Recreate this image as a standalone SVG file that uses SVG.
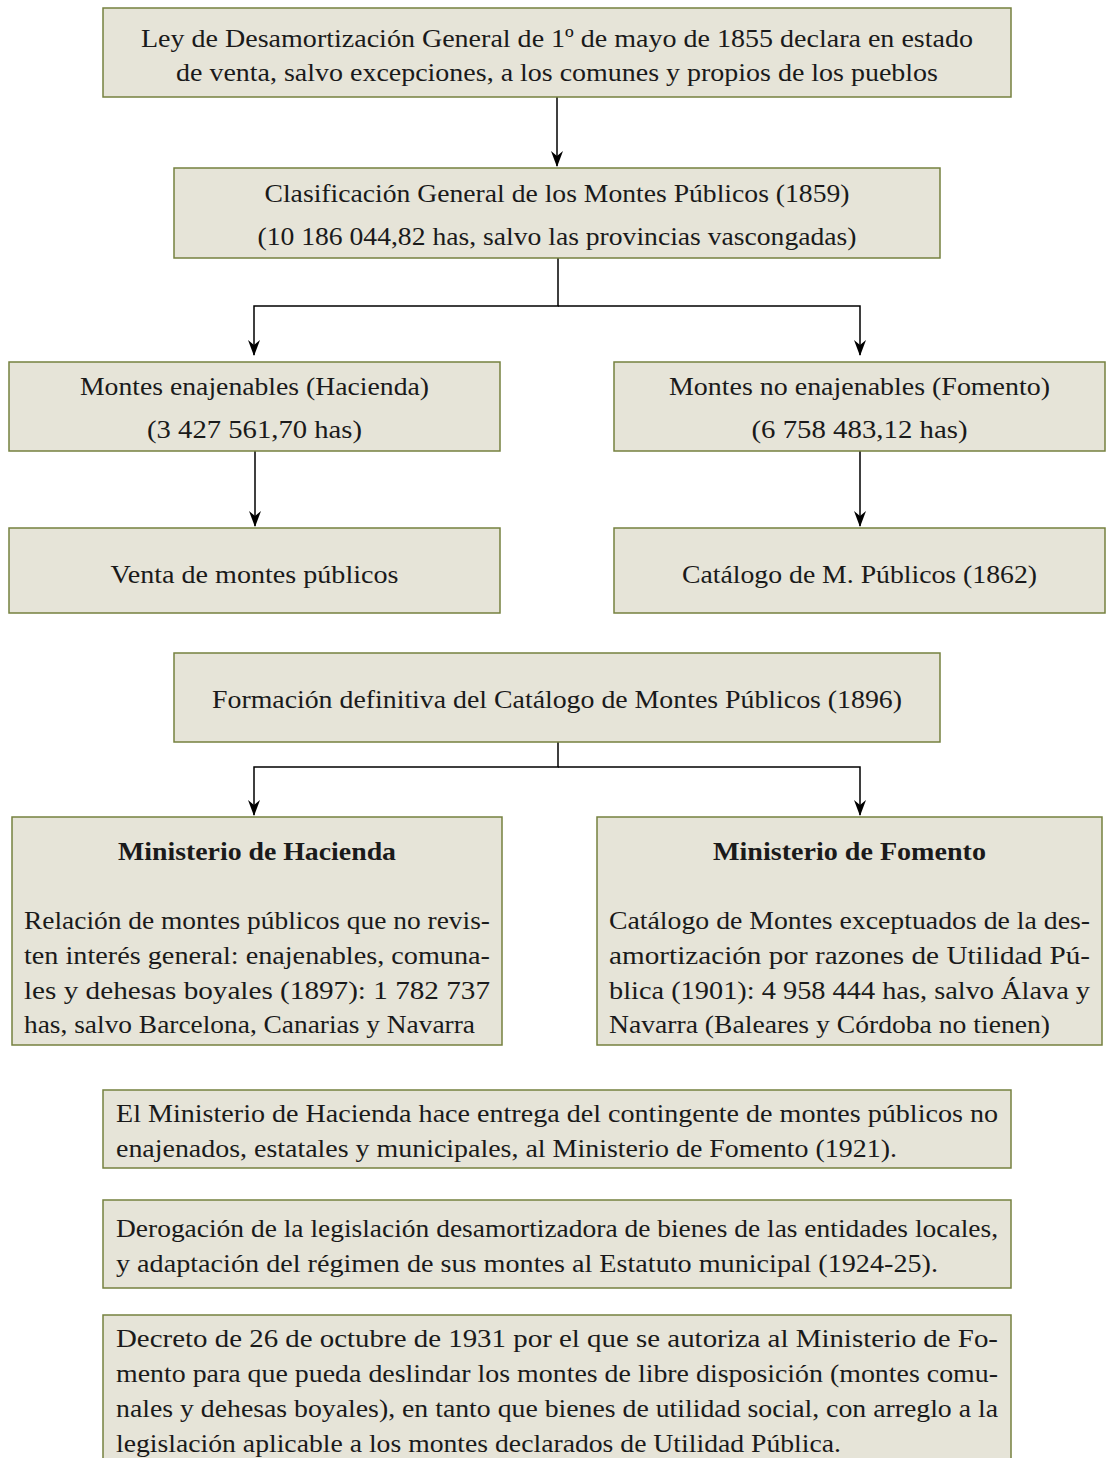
<svg xmlns="http://www.w3.org/2000/svg" width="1109" height="1458" viewBox="0 0 1109 1458">
<style>
.box{fill:#e6e4d8;stroke:#76813f;stroke-width:1.5}
text{font-family:"Liberation Serif","Times New Roman",serif;font-size:26px;fill:#1a1a1a}
.c{text-anchor:middle}
.b{font-weight:bold}
.con{fill:none;stroke:#000;stroke-width:1.5}
</style>
<defs>
<marker id="ah" markerWidth="16" markerHeight="12" refX="15" refY="6" orient="auto" markerUnits="userSpaceOnUse" viewBox="0 0 16 12">
<path d="M0,0 L16,6 L0,12 L5,6 Z" fill="#000"/>
</marker>
</defs>
<rect width="1109" height="1458" fill="#fff"/>
<g id="connectors">
<path class="con" d="M557,97 V166" marker-end="url(#ah)"/>
<path class="con" d="M558,258 V306 H254 V355" marker-end="url(#ah)"/>
<path class="con" d="M558,306 H860 V355" marker-end="url(#ah)"/>
<path class="con" d="M255,451 V526" marker-end="url(#ah)"/>
<path class="con" d="M860,451 V526" marker-end="url(#ah)"/>
<path class="con" d="M558,742 V767 H254 V815" marker-end="url(#ah)"/>
<path class="con" d="M558,767 H860 V815" marker-end="url(#ah)"/>
</g>
<g id="n1">
<rect class="box" x="103" y="8" width="908" height="89"/>
<text class="c" x="557" y="47" textLength="832" lengthAdjust="spacingAndGlyphs">Ley de Desamortización General de 1º de mayo de 1855 declara en estado</text>
<text class="c" x="557" y="81" textLength="762" lengthAdjust="spacingAndGlyphs">de venta, salvo excepciones, a los comunes y propios de los pueblos</text>
</g>
<g id="n2">
<rect class="box" x="174" y="168" width="766" height="90"/>
<text class="c" x="557" y="202" textLength="585" lengthAdjust="spacingAndGlyphs">Clasificación General de los Montes Públicos (1859)</text>
<text class="c" x="557" y="245" textLength="599" lengthAdjust="spacingAndGlyphs">(10 186 044,82 has, salvo las provincias vascongadas)</text>
</g>
<g id="n3">
<rect class="box" x="9" y="362" width="491" height="89"/>
<text class="c" x="254.5" y="395" textLength="349" lengthAdjust="spacingAndGlyphs">Montes enajenables (Hacienda)</text>
<text class="c" x="254.5" y="438" textLength="215" lengthAdjust="spacingAndGlyphs">(3 427 561,70 has)</text>
</g>
<g id="n4">
<rect class="box" x="614" y="362" width="491" height="89"/>
<text class="c" x="859.5" y="395" textLength="381" lengthAdjust="spacingAndGlyphs">Montes no enajenables (Fomento)</text>
<text class="c" x="859.5" y="438" textLength="216" lengthAdjust="spacingAndGlyphs">(6 758 483,12 has)</text>
</g>
<g id="n5">
<rect class="box" x="9" y="528" width="491" height="85"/>
<text class="c" x="254.5" y="583" textLength="288" lengthAdjust="spacingAndGlyphs">Venta de montes públicos</text>
</g>
<g id="n6">
<rect class="box" x="614" y="528" width="491" height="85"/>
<text class="c" x="859.5" y="583" textLength="355" lengthAdjust="spacingAndGlyphs">Catálogo de M. Públicos (1862)</text>
</g>
<g id="n7">
<rect class="box" x="174" y="653" width="766" height="89"/>
<text class="c" x="557" y="708" textLength="690" lengthAdjust="spacingAndGlyphs">Formación definitiva del Catálogo de Montes Públicos (1896)</text>
</g>
<g id="n8">
<rect class="box" x="12" y="817" width="490" height="228"/>
<text class="c b" x="257" y="860" textLength="278" lengthAdjust="spacingAndGlyphs">Ministerio de Hacienda</text>
<text x="24" y="929" textLength="466" lengthAdjust="spacingAndGlyphs">Relación de montes públicos que no revis-</text>
<text x="24" y="964" textLength="466" lengthAdjust="spacingAndGlyphs">ten interés general: enajenables, comuna-</text>
<text x="24" y="999" textLength="466" lengthAdjust="spacingAndGlyphs">les y dehesas boyales (1897): 1 782 737</text>
<text x="24" y="1033" textLength="451" lengthAdjust="spacingAndGlyphs">has, salvo Barcelona, Canarias y Navarra</text>
</g>
<g id="n9">
<rect class="box" x="597" y="817" width="505" height="228"/>
<text class="c b" x="849.5" y="860" textLength="273" lengthAdjust="spacingAndGlyphs">Ministerio de Fomento</text>
<text x="609" y="929" textLength="481" lengthAdjust="spacingAndGlyphs">Catálogo de Montes exceptuados de la des-</text>
<text x="609" y="964" textLength="481" lengthAdjust="spacingAndGlyphs">amortización por razones de Utilidad Pú-</text>
<text x="609" y="999" textLength="481" lengthAdjust="spacingAndGlyphs">blica (1901): 4 958 444 has, salvo Álava y</text>
<text x="609" y="1033" textLength="441" lengthAdjust="spacingAndGlyphs">Navarra (Baleares y Córdoba no tienen)</text>
</g>
<g id="n10">
<rect class="box" x="103" y="1090" width="908" height="78"/>
<text x="116" y="1122" textLength="882" lengthAdjust="spacingAndGlyphs">El Ministerio de Hacienda hace entrega del contingente de montes públicos no</text>
<text x="116" y="1157" textLength="781" lengthAdjust="spacingAndGlyphs">enajenados, estatales y municipales, al Ministerio de Fomento (1921).</text>
</g>
<g id="n11">
<rect class="box" x="103" y="1200" width="908" height="88"/>
<text x="116" y="1237" textLength="882" lengthAdjust="spacingAndGlyphs">Derogación de la legislación desamortizadora de bienes de las entidades locales,</text>
<text x="116" y="1272" textLength="822" lengthAdjust="spacingAndGlyphs">y adaptación del régimen de sus montes al Estatuto municipal (1924-25).</text>
</g>
<g id="n12">
<rect class="box" x="103" y="1315" width="908" height="160"/>
<text x="116" y="1347" textLength="882" lengthAdjust="spacingAndGlyphs">Decreto de 26 de octubre de 1931 por el que se autoriza al Ministerio de Fo-</text>
<text x="116" y="1382" textLength="882" lengthAdjust="spacingAndGlyphs">mento para que pueda deslindar los montes de libre disposición (montes comu-</text>
<text x="116" y="1417" textLength="882" lengthAdjust="spacingAndGlyphs">nales y dehesas boyales), en tanto que bienes de utilidad social, con arreglo a la</text>
<text x="116" y="1452" textLength="725" lengthAdjust="spacingAndGlyphs">legislación aplicable a los montes declarados de Utilidad Pública.</text>
</g>
</svg>
